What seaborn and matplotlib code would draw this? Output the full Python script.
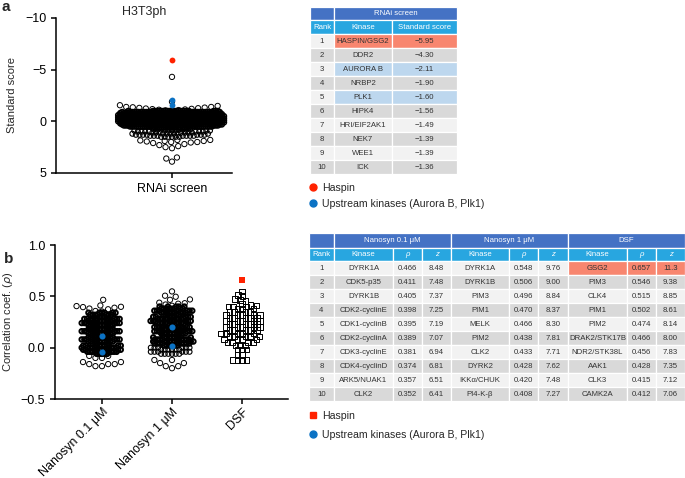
import numpy as np
import pandas as pd
import matplotlib
matplotlib.use("Agg")
import matplotlib.pyplot as plt
import seaborn as sns
from matplotlib.patches import Rectangle
from matplotlib.lines import Line2D

# ---------------- data: panel a (RNAi screen, standard score) ----------------
rnai_haspin = [-5.95]
rnai_upstream = [-2.11, -1.60]
rnai_outer_vals = [-4.30, -1.90, -1.56, -1.49, -1.39, -1.36, -1.33, -1.30, -1.27, -1.24,
                   -1.21, -1.18, -1.15, -1.12, -1.09, -1.06,
                   1.80, 1.85, 1.90, 1.95, 2.00, 2.05, 2.10, 2.20, 2.30, 2.40, 2.50, 2.60,
                   3.50, 3.60, 3.90]
rnai_outer_counts = [1, 1, 1, 1, 2, 1, 1, 1, 1, 1,
                     1, 1, 1, 1, 1, 2,
                     2, 1, 2, 1, 2, 1, 1, 1, 1, 1, 1, 1,
                     1, 1, 1]
rnai_core_vals = [-1.0, -0.9, -0.8, -0.7, -0.6, -0.5, -0.4, -0.3, -0.2, -0.1,
                  0.0, 0.1, 0.2, 0.3, 0.4, 0.5, 0.6]
rnai_core_counts = [22, 24, 25, 25, 26, 26, 26, 26, 26, 26, 26, 26, 25, 25, 24, 22, 18]
rnai_mid_vals = [0.8, 0.9, 1.0, 1.1, 1.2, 1.3, 1.4, 1.5]
rnai_mid_counts = [7, 7, 7, 7, 7, 7, 7, 6]

# ---------------- data: panel b (correlation coefficient rho) ----------------
groups_b = ["Nanosyn 0.1 \u03bcM", "Nanosyn 1 \u03bcM", "DSF"]

n01_outer_vals = [0.466, 0.411, 0.405, 0.398, 0.395, 0.389, 0.381, 0.374, 0.357, 0.352,
                  -0.08, -0.10, -0.14, -0.16, -0.18]
n01_outer_counts = [1, 1, 1, 1, 1, 1, 1, 1, 1, 1, 2, 2, 2, 3, 2]
n01_core_vals = [-0.06, -0.04, -0.02, 0.00, 0.02, 0.04, 0.06, 0.08, 0.10, 0.12, 0.14,
                 0.16, 0.18, 0.20, 0.22, 0.24, 0.26, 0.28, 0.30, 0.32, 0.34]
n01_core_counts = [5, 8, 9, 9, 9, 3, 9, 9, 9, 3, 9, 9, 9, 3, 9, 9, 9, 8, 3, 7, 6]
n01_upstream = [0.11, -0.04]

n1_outer_vals = [0.548, 0.506, 0.496, 0.470, 0.466, 0.438, 0.433, 0.428, 0.420, 0.408,
                 -0.12, -0.15, -0.18, -0.20]
n1_outer_counts = [1, 1, 1, 1, 1, 1, 1, 1, 1, 1, 2, 2, 2, 1]
n1_mid_vals = [-0.06, -0.04, -0.02, 0.00]
n1_mid_counts = [6, 6, 6, 6]
n1_core_vals = [0.02, 0.04, 0.06, 0.08, 0.10, 0.12, 0.14, 0.16, 0.18, 0.20, 0.22,
                0.24, 0.26, 0.28, 0.30, 0.32, 0.34, 0.36, 0.38, 0.40]
n1_core_counts = [6, 9, 9, 9, 8, 3, 9, 9, 9, 8, 3, 9, 9, 9, 8, 3, 9, 9, 8, 5]
n1_upstream = [0.20, 0.02]

dsf_vals = [0.546, 0.515, 0.502, 0.474, 0.466, 0.456, 0.428, 0.415, 0.412,
            0.40, 0.38, 0.35, 0.32, 0.29, 0.26, 0.23, 0.20, 0.17, 0.14, 0.11,
            0.08, 0.05, 0.02, -0.02, -0.07, -0.12]
dsf_counts = [1, 1, 1, 1, 1, 1, 1, 1, 1,
              3, 3, 4, 5, 5, 5, 5, 5, 5, 5, 5,
              4, 4, 3, 3, 2, 4]
dsf_haspin = [0.657]

# ---------------- data: tables ----------------
ta_rank = ["1", "2", "3", "4", "5", "6", "7", "8", "9", "10"]
ta_kinase = ["HASPIN/GSG2", "DDR2", "AURORA B", "NRBP2", "PLK1", "HIPK4",
             "HRI/EIF2AK1", "NEK7", "WEE1", "ICK"]
ta_score = ["\u22125.95", "\u22124.30", "\u22122.11", "\u22121.90", "\u22121.60",
            "\u22121.56", "\u22121.49", "\u22121.39", "\u22121.39", "\u22121.36"]

tb_n01_kin = ["DYRK1A", "CDK5-p35", "DYRK1B", "CDK2-cyclinE", "CDK1-cyclinB",
              "CDK2-cyclinA", "CDK3-cyclinE", "CDK4-cyclinD", "ARK5/NUAK1", "CLK2"]
tb_n01_rho = ["0.466", "0.411", "0.405", "0.398", "0.395", "0.389", "0.381", "0.374", "0.357", "0.352"]
tb_n01_z = ["8.48", "7.48", "7.37", "7.25", "7.19", "7.07", "6.94", "6.81", "6.51", "6.41"]
tb_n1_kin = ["DYRK1A", "DYRK1B", "PIM3", "PIM1", "MELK", "PIM2", "CLK2", "DYRK2",
             "IKK\u03b1/CHUK", "PI4-K-\u03b2"]
tb_n1_rho = ["0.548", "0.506", "0.496", "0.470", "0.466", "0.438", "0.433", "0.428", "0.420", "0.408"]
tb_n1_z = ["9.76", "9.00", "8.84", "8.37", "8.30", "7.81", "7.71", "7.62", "7.48", "7.27"]
tb_dsf_kin = ["GSG2", "PIM3", "CLK4", "PIM1", "PIM2", "DRAK2/STK17B", "NDR2/STK38L",
              "AAK1", "CLK3", "CAMK2A"]
tb_dsf_rho = ["0.657", "0.546", "0.515", "0.502", "0.474", "0.466", "0.456", "0.428", "0.415", "0.412"]
tb_dsf_z = ["11.3", "9.38", "8.85", "8.61", "8.14", "8.00", "7.83", "7.35", "7.12", "7.06"]

# ---------------- style ----------------
RED = "#ff2200"
BLUE = "#0b72c4"
DARK_HDR = "#4472c4"
LIGHT_HDR = "#28a6e0"
ROW_L = "#f2f2f2"
ROW_D = "#d9d9d9"
HL_RED = "#f8866f"
HL_BLUE = "#bdd7ee"
TXT = "#333333"

sns.set_theme(style="ticks")
plt.rcParams["font.family"] = ["Liberation Sans", "DejaVu Sans"]
plt.rcParams["axes.linewidth"] = 1.1
plt.rcParams["xtick.major.width"] = 1.1
plt.rcParams["ytick.major.width"] = 1.1
plt.rcParams["xtick.major.size"] = 3.5
plt.rcParams["ytick.major.size"] = 3.5
plt.rcParams["xtick.labelsize"] = 9
plt.rcParams["ytick.labelsize"] = 9
plt.rcParams["xtick.color"] = "black"
plt.rcParams["ytick.color"] = "black"
plt.rcParams["axes.edgecolor"] = "black"

W, H = 685, 478
fig = plt.figure(figsize=(W / 100, H / 100), dpi=100)

relayout = []


def px_axes(x0, y0, x1, y1, **kw):
    return fig.add_axes([x0 / W, 1 - y1 / H, (x1 - x0) / W, (y1 - y0) / H], **kw)


def swarm(ax, vals, counts, group, order, size, lw, marker="o", layout=None):
    """Beeswarm via seaborn; optionally lay out with a smaller collision size
    (Prism-like overlapping points) and then draw at the full marker size."""
    df = pd.DataFrame({"group": group, "value": np.repeat(vals, counts)})
    n = len(ax.collections)
    sns.swarmplot(data=df, x="group", y="value", order=order, ax=ax,
                  size=layout if layout else size,
                  color="black", edgecolor="black", linewidth=lw, marker=marker,
                  warn_thresh=1)
    for c in ax.collections[n:]:
        c.set_facecolor("none")
        if layout:
            relayout.append((c, size))


def highlight(ax, vals, group, order, color, size, marker="o"):
    df = pd.DataFrame({"group": group, "value": vals})
    sns.stripplot(data=df, x="group", y="value", order=order, ax=ax, jitter=False,
                  color=color, size=size, marker=marker, linewidth=0, zorder=5)


# ---------------- table overlay ----------------
tax = fig.add_axes([0, 0, 1, 1], zorder=-1)
tax.set_xlim(0, W)
tax.set_ylim(H, 0)
tax.axis("off")


def cell(x0, x1, y0, y1, fc, text="", color=TXT, fs=5.6, style="normal"):
    tax.add_patch(Rectangle((x0, y0), x1 - x0, y1 - y0, facecolor=fc,
                            edgecolor="white", linewidth=0.9))
    if text:
        tax.text((x0 + x1) / 2, (y0 + y1) / 2 + 0.3, text, ha="center", va="center",
                 fontsize=fs, color=color, style=style)


# table a
ca = [310, 334, 392, 457]
ra = [7, 20, 34] + [34 + 14 * (i + 1) for i in range(10)]
cell(ca[0], ca[1], ra[0], ra[1], DARK_HDR)
cell(ca[1], ca[3], ra[0], ra[1], DARK_HDR, "RNAi screen", "white")
for j, t in enumerate(["Rank", "Kinase", "Standard score"]):
    cell(ca[j], ca[j + 1], ra[1], ra[2], LIGHT_HDR, t, "white")
for i in range(10):
    base = ROW_L if i % 2 == 0 else ROW_D
    y0, y1 = ra[2 + i], ra[3 + i]
    cell(ca[0], ca[1], y0, y1, base, ta_rank[i])
    fc = base
    if i == 0:
        fc = HL_RED
    elif i in (2, 4):
        fc = HL_BLUE
    cell(ca[1], ca[2], y0, y1, fc, ta_kinase[i])
    cell(ca[2], ca[3], y0, y1, fc, ta_score[i])

# table b
cb = [309, 334, 393, 422, 451, 509, 538, 568, 627, 656, 685]
rb = [233, 248, 261] + [261 + 14 * (i + 1) for i in range(10)]
cell(cb[0], cb[1], rb[0], rb[1], DARK_HDR)
for g in range(3):
    cell(cb[1 + 3 * g], cb[4 + 3 * g], rb[0], rb[1], DARK_HDR, groups_b[g], "white")
hdr2 = ["Rank"] + ["Kinase", "\u03c1", "z"] * 3
for j, t in enumerate(hdr2):
    st = "italic" if t in ("\u03c1", "z") else "normal"
    cell(cb[j], cb[j + 1], rb[1], rb[2], LIGHT_HDR, t, "white", style=st)
cols_b = [ta_rank, tb_n01_kin, tb_n01_rho, tb_n01_z, tb_n1_kin, tb_n1_rho, tb_n1_z,
          tb_dsf_kin, tb_dsf_rho, tb_dsf_z]
for i in range(10):
    base = ROW_L if i % 2 == 0 else ROW_D
    for j, col in enumerate(cols_b):
        fc = HL_RED if (i == 0 and j >= 7) else base
        cell(cb[j], cb[j + 1], rb[2 + i], rb[3 + i], fc, col[i])

# ---------------- panel a ----------------
axa = px_axes(56, 18, 232, 173)
ga = "RNAi screen"
swarm(axa, rnai_core_vals, rnai_core_counts, ga, [ga], size=3.6, lw=1.1, layout=0.35)
swarm(axa, rnai_mid_vals, rnai_mid_counts, ga, [ga], size=3.6, lw=0.8, layout=1.7)
swarm(axa, rnai_outer_vals, rnai_outer_counts, ga, [ga], size=3.8, lw=0.7)
highlight(axa, rnai_upstream, ga, [ga], BLUE, 4.2)
highlight(axa, rnai_haspin, ga, [ga], RED, 4.2)
axa.set_xlim(-0.806, 0.417)
axa.set_ylim(5, -10)
axa.set_yticks([-10, -5, 0, 5])
axa.set_xlabel("")
axa.set_ylabel("Standard score", fontsize=8, labelpad=6)
axa.set_title("H3T3ph", fontsize=9, pad=2.5)
sns.despine(ax=axa)

# ---------------- panel b ----------------
axb = px_axes(55, 245, 288, 399)
swarm(axb, n01_core_vals, n01_core_counts, groups_b[0], groups_b, size=3.3, lw=1.4, layout=0.4)
swarm(axb, n01_outer_vals, n01_outer_counts, groups_b[0], groups_b, size=3.8, lw=0.7)
swarm(axb, n1_core_vals, n1_core_counts, groups_b[1], groups_b, size=3.3, lw=1.4, layout=0.4)
swarm(axb, n1_mid_vals, n1_mid_counts, groups_b[1], groups_b, size=3.6, lw=0.8, layout=1.7)
swarm(axb, n1_outer_vals, n1_outer_counts, groups_b[1], groups_b, size=3.8, lw=0.7)
swarm(axb, dsf_vals, dsf_counts, groups_b[2], groups_b, size=4.0, lw=0.7, marker="s", layout=2.5)
highlight(axb, n01_upstream, groups_b[0], groups_b, BLUE, 4.4)
highlight(axb, n1_upstream, groups_b[1], groups_b, BLUE, 4.4)
highlight(axb, dsf_haspin, groups_b[2], groups_b, RED, 4.4, marker="s")
axb.set_xlim(-0.671, 2.657)
axb.set_ylim(-0.5, 1.0)
axb.set_yticks([-0.5, 0.0, 0.5, 1.0])
axb.set_xticks([0, 1, 2])
axb.set_xticklabels(groups_b, rotation=45, ha="right", rotation_mode="anchor")
axb.tick_params(axis="x", pad=1.5)
axb.set_xlabel("")
axb.set_ylabel("Correlation coef. ($\\rho$)", fontsize=8, labelpad=4)
sns.despine(ax=axb)

# ---------------- legends ----------------
ha = [Line2D([], [], marker="o", ls="none", color=RED, ms=5),
      Line2D([], [], marker="o", ls="none", color=BLUE, ms=5)]
fig.legend(ha, ["Haspin", "Upstream kinases (Aurora B, Plk1)"], loc="upper left",
           bbox_to_anchor=(309 / W, 1 - 183 / H), frameon=False, fontsize=7.6,
           handlelength=0.7, handletextpad=0.5, labelspacing=0.55, borderpad=0,
           borderaxespad=0)
hb = [Line2D([], [], marker="s", ls="none", color=RED, ms=5),
      Line2D([], [], marker="o", ls="none", color=BLUE, ms=5)]
fig.legend(hb, ["Haspin", "Upstream kinases (Aurora B, Plk1)"], loc="upper left",
           bbox_to_anchor=(309 / W, 1 - 411 / H), frameon=False, fontsize=7.6,
           handlelength=0.7, handletextpad=0.5, labelspacing=0.85, borderpad=0,
           borderaxespad=0)

fig.text(2 / W, 1 - 0 / H, "a", fontsize=11, fontweight="bold", va="top", ha="left")
fig.text(4 / W, 1 - 252 / H, "b", fontsize=11, fontweight="bold", va="top", ha="left")

# first pass: compute the beeswarm layouts with the collision sizes,
# then freeze those positions and draw the markers at full size
fig.canvas.draw()
for coll, s in relayout:
    if "draw" in coll.__dict__:
        del coll.draw
    coll.set_sizes([s ** 2])

fig.savefig("out.png", dpi=100)
